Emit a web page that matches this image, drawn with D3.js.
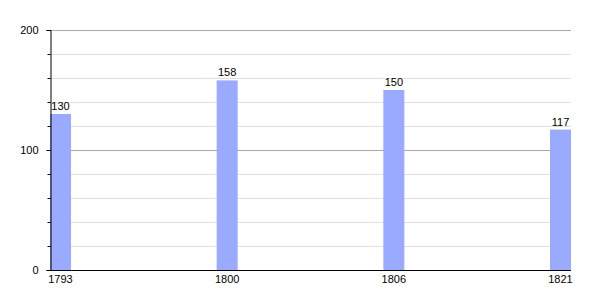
<!DOCTYPE html>
<html>
<head>
<meta charset="utf-8">
<script src="https://cdn.jsdelivr.net/npm/d3@7"></script>
<style>
  body { margin: 0; background: #fff; }
  text { font-family: "Liberation Sans", Arial, sans-serif; font-size: 11px; fill: #000; }
</style>
</head>
<body>
<svg width="600" height="300"></svg>
<script>
// data
var years = ["1793", "1800", "1806", "1821"];
var values = [130, 158, 150, 117];
var majorTicks = [0, 100, 200];
var minorTicks = [20, 40, 60, 80, 120, 140, 160, 180];

// plot area (note: "top" is a window property, so use other names)
var plotLeft = 50, plotRight = 571, plotTop = 30, plotBottom = 270,
    barW = 21;

var svg = d3.select("svg");

var x = d3.scalePoint()
    .domain(years)
    .range([plotLeft, plotRight - barW]);

var y = d3.scaleLinear()
    .domain([0, 200])
    .range([plotBottom, plotTop]);

// gridlines
svg.append("g").selectAll("line")
    .data(minorTicks)
    .enter().append("line")
      .attr("x1", plotLeft).attr("x2", plotRight)
      .attr("y1", d => y(d) + 0.5).attr("y2", d => y(d) + 0.5)
      .attr("stroke", "#e0e0e0");

svg.append("g").selectAll("line")
    .data(majorTicks.filter(d => d > 0))
    .enter().append("line")
      .attr("x1", plotLeft).attr("x2", plotRight)
      .attr("y1", d => y(d) + 0.5).attr("y2", d => y(d) + 0.5)
      .attr("stroke", "#a8a8a8");

// bars
svg.append("g").selectAll("rect")
    .data(values)
    .enter().append("rect")
      .attr("x", (d, i) => x(years[i]))
      .attr("y", d => y(d))
      .attr("width", barW)
      .attr("height", d => plotBottom - y(d))
      .attr("fill", "#99aaff");

// value labels
svg.append("g").selectAll("text")
    .data(values)
    .enter().append("text")
      .attr("x", (d, i) => x(years[i]) + barW / 2)
      .attr("y", d => y(d) - 4)
      .attr("text-anchor", "middle")
      .text(d => d);

// y axis (major + minor ticks)
var yAxis = svg.append("g")
    .attr("transform", "translate(" + (plotLeft + 0.5) + ",0)")
    .call(d3.axisLeft(y).tickValues(majorTicks).tickSize(4).tickPadding(8));
yAxis.attr("font-family", null).attr("font-size", null);
svg.append("g")
    .attr("transform", "translate(" + (plotLeft + 0.5) + ",0)")
    .call(d3.axisLeft(y).tickValues(minorTicks).tickSize(3).tickFormat(""))
    .select(".domain").remove();

// x axis line + year labels
svg.append("line")
    .attr("x1", plotLeft).attr("x2", plotRight)
    .attr("y1", plotBottom + 0.5).attr("y2", plotBottom + 0.5)
    .attr("stroke", "#000");

svg.append("g").selectAll("text")
    .data(years)
    .enter().append("text")
      .attr("x", d => x(d) + barW / 2)
      .attr("y", plotBottom + 13)
      .attr("text-anchor", "middle")
      .text(d => d);
</script>
</body>
</html>
